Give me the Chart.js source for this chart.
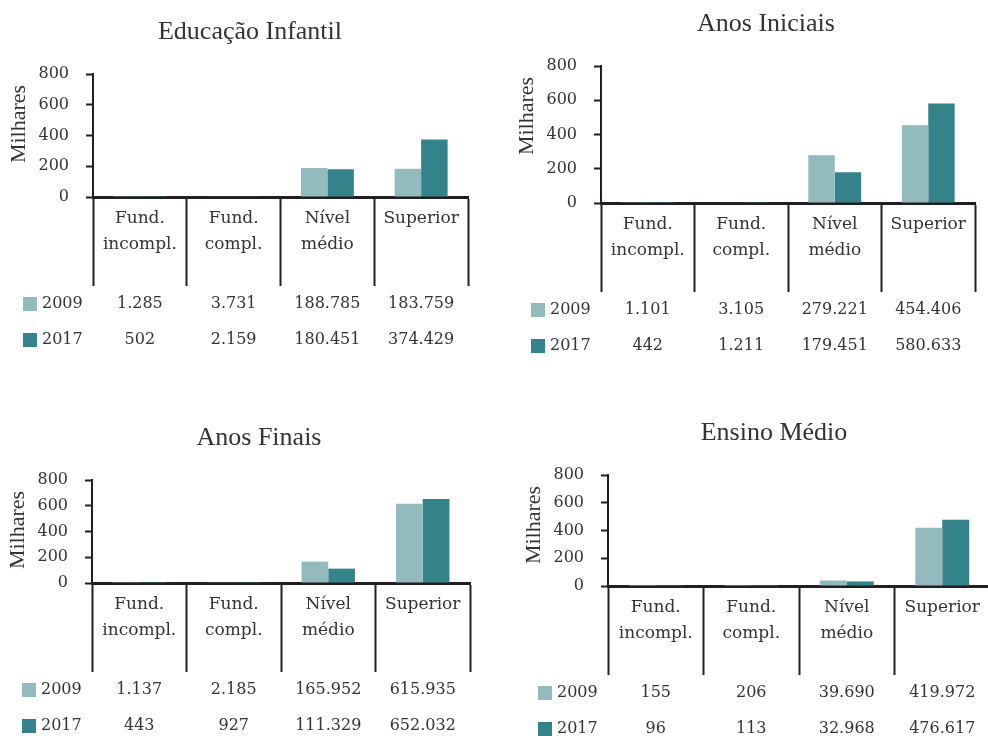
<!DOCTYPE html>
<html>
<head>
<meta charset="utf-8">
<script src="https://cdn.jsdelivr.net/npm/chart.js@4.4.1/dist/chart.umd.min.js"></script>
<style>
html, body { margin: 0; padding: 0; width: 988px; height: 736px; overflow: hidden; background: #fff; }
canvas { position: absolute; }
</style>
</head>
<body>
<script>
var categories = [['Fund.', 'incompl.'], ['Fund.', 'compl.'], ['Nível', 'médio'], ['Superior']];
var years = ['2009', '2017'];
var titles = ['Educação Infantil', 'Anos Iniciais', 'Anos Finais', 'Ensino Médio'];
var yTicks = [0, 200, 400, 600, 800];

// people, one value per category
var infantil2009 = [1285, 3731, 188785, 183759];
var infantil2017 = [502, 2159, 180451, 374429];
var iniciais2009 = [1101, 3105, 279221, 454406];
var iniciais2017 = [442, 1211, 179451, 580633];
var finais2009 = [1137, 2185, 165952, 615935];
var finais2017 = [443, 927, 111329, 652032];
var medio2009 = [155, 206, 39690, 419972];
var medio2017 = [96, 113, 32968, 476617];

var panelData = [
    [infantil2009, infantil2017],
    [iniciais2009, iniciais2017],
    [finais2009, finais2017],
    [medio2009, medio2017]
];

var colors = ['#93babd', '#35838a'];
var ink = '#231f20';
var textColor = '#333333';
var rowOffsets = [107, 143];

// page pixels: canvas origin/width, plot edges, title centre
var boxes = [
    {x: 0, y: 0, w: 494, left: 93, top: 74, bottom: 197, right: 468, titleX: 250},
    {x: 494, y: 0, w: 494, left: 601, top: 66, bottom: 203, right: 975, titleX: 766},
    {x: 0, y: 368, w: 494, left: 92, top: 480, bottom: 583, right: 470, titleX: 259},
    {x: 494, y: 368, w: 500, left: 608, top: 475, bottom: 586, right: 990, titleX: 774}
];
var canvasH = 368;
var xAxisH = 100;

Chart.defaults.font.family = '"DejaVu Serif", serif';
Chart.defaults.color = textColor;

function fmt(n) {
    return String(n).replace(/\B(?=(\d{3})+(?!\d))/g, '.');
}

var panelText = {
    id: 'panelText',
    afterDraw: function(chart, args, opts) {
        var ctx = chart.ctx, area = chart.chartArea, xs = chart.scales.x;
        ctx.save();
        ctx.fillStyle = textColor;

        ctx.font = '26px "Liberation Serif"';
        ctx.textAlign = 'center';
        ctx.textBaseline = 'alphabetic';
        ctx.fillText(opts.title, opts.titleX, area.top - 35);

        ctx.save();
        ctx.translate(area.left - 74, area.top + 50);
        ctx.rotate(-Math.PI / 2);
        ctx.font = '22px "Liberation Serif"';
        ctx.textBaseline = 'middle';
        ctx.fillText('Milhares', 0, 0);
        ctx.restore();

        ctx.font = '16px "DejaVu Serif"';
        ctx.textBaseline = 'middle';
        chart.data.datasets.forEach(function(ds, i) {
            var y = area.bottom + rowOffsets[i];
            ctx.fillStyle = ds.backgroundColor;
            ctx.fillRect(area.left - 70, y - 7, 14, 14);
            ctx.fillStyle = textColor;
            ctx.textAlign = 'left';
            ctx.fillText(ds.label, area.left - 51, y);
            ctx.textAlign = 'center';
            opts.raw[i].forEach(function(v, j) {
                ctx.fillText(fmt(v), xs.getPixelForValue(j), y);
            });
        });
        ctx.restore();
    }
};

boxes.forEach(function(box, p) {
    var cv = document.createElement('canvas');
    cv.width = box.w;
    cv.height = canvasH;
    cv.style.left = box.x + 'px';
    cv.style.top = box.y + 'px';
    document.body.appendChild(cv);

    var series = panelData[p];
    new Chart(cv.getContext('2d'), {
        type: 'bar',
        data: {
            labels: categories,
            datasets: series.map(function(vals, i) {
                return {
                    label: years[i],
                    data: vals.map(function(v) { return v / 1000; }),
                    backgroundColor: colors[i],
                    borderWidth: 0,
                    categoryPercentage: 0.565,
                    barPercentage: 1.0
                };
            })
        },
        plugins: [panelText],
        options: {
            responsive: false,
            animation: false,
            layout: {
                padding: {
                    left: 0,
                    top: box.top - box.y,
                    right: box.w - (box.right - box.x),
                    bottom: canvasH - (box.bottom - box.y) - xAxisH
                }
            },
            plugins: {
                legend: {display: false},
                tooltip: {enabled: false},
                title: {display: false},
                panelText: {
                    title: titles[p],
                    titleX: box.titleX - box.x,
                    raw: series
                }
            },
            scales: {
                x: {
                    grid: {offset: true, drawOnChartArea: false, tickLength: 89, tickColor: ink, tickWidth: 2},
                    border: {color: ink, width: 3},
                    ticks: {
                        autoSkip: false, maxRotation: 0, padding: -80,
                        font: {size: 17, lineHeight: 1.5}, color: textColor
                    },
                    afterFit: function(s) { s.height = xAxisH; }
                },
                y: {
                    min: 0,
                    max: 800,
                    afterBuildTicks: function(s) {
                        s.ticks = yTicks.map(function(v) { return {value: v}; });
                    },
                    grid: {drawOnChartArea: false, tickLength: 7, tickColor: ink, tickWidth: 2},
                    border: {color: ink, width: 2},
                    ticks: {padding: 17, font: {size: 16}, color: textColor},
                    afterFit: function(s) { s.width = box.left - box.x; }
                }
            }
        }
    });
});
</script>
</body>
</html>
